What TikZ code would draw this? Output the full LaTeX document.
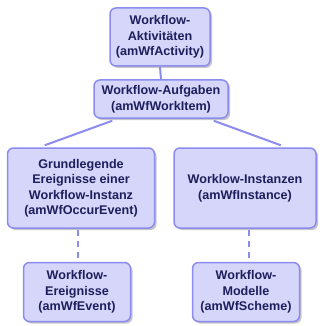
\documentclass[tikz,border=0pt]{standalone}
\usepackage{fontspec}
\setmainfont{Liberation Sans}
\usetikzlibrary{shadows,calc}
\definecolor{wfFill}{HTML}{D6D6FA}
\definecolor{wfLine}{HTML}{8C8CF0}
\definecolor{wfText}{HTML}{1E1E5C}
\begin{document}
\begin{tikzpicture}[x=1pt,y=-1pt,
  box/.style={draw=wfLine,fill=wfFill,line width=1.5pt,rounded corners=6pt,align=center,inner sep=2pt,
    font=\fontsize{12.6}{15.5}\selectfont\bfseries,text=wfText,
    drop shadow={shadow xshift=2pt,shadow yshift=-2pt,fill=black!45,opacity=0.5}},
  link/.style={draw=wfLine,line width=2pt},
  dlink/.style={draw=wfLine,line width=2pt,dash pattern=on 6pt off 5pt}]
\useasboundingbox (0,0) rectangle (321,326);
\node[box,minimum width=100pt,minimum height=58pt] (akt) at (160,37) {Workflow-\\Aktivitäten\\(amWfActivity)};
\node[box,minimum width=134pt,minimum height=38pt] (aufg) at (161,99) {Workflow-Aufgaben\\(amWfWorkItem)};
\node[box,minimum width=147pt,minimum height=80pt] (grund) at (81,188) {Grundlegende\\Ereignisse einer\\Workflow-Instanz\\(amWfOccurEvent)};
\node[box,minimum width=142pt,minimum height=80pt] (inst) at (245,188) {Worklow-Instanzen\\(amWfInstance)};
\node[box,minimum width=107pt,minimum height=59pt] (ereig) at (77,292) {Workflow-\\Ereignisse\\(amWfEvent)};
\node[box,minimum width=107pt,minimum height=59pt] (modell) at (246,292) {Workflow-\\Modelle\\(amWfScheme)};
% verbindungen
\draw[link] (akt.south) -- (aufg.north);
\draw[link] ([xshift=19pt,yshift=-2pt]aufg.south west) -- ([xshift=38pt,yshift=2pt]grund.north west);
\draw[link] ([xshift=-15pt,yshift=-2pt]aufg.south east) -- ([xshift=-36pt,yshift=2pt]inst.north east);
\draw[dlink] ([xshift=-3pt,yshift=-1pt]grund.south) -- ([xshift=-3pt]grund.south |- ereig.north);
\draw[dlink] ([xshift=4pt,yshift=-1pt]inst.south) -- ([xshift=4pt]inst.south |- modell.north);
\end{tikzpicture}
\end{document}
